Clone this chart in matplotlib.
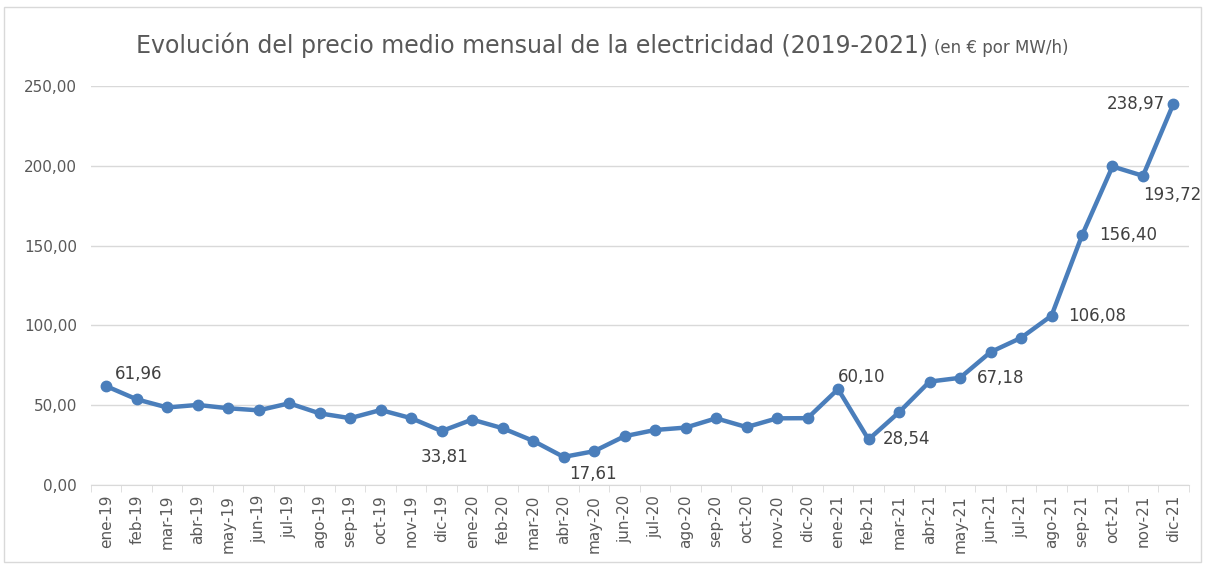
import numpy as np
import matplotlib.pyplot as plt
from matplotlib.patches import Rectangle

meses = ['ene', 'feb', 'mar', 'abr', 'may', 'jun', 'jul', 'ago', 'sep', 'oct', 'nov', 'dic']
etiquetas = [m + '-' + a for a in ['19', '20', '21'] for m in meses]

precios = [61.96, 53.7, 48.6, 50.2, 48.1, 46.8, 51.2, 44.9, 41.9, 47.0, 41.9, 33.81,
           41.0, 35.6, 27.7, 17.61, 21.2, 30.6, 34.5, 36.0, 41.8, 36.3, 41.8, 41.9,
           60.10, 28.54, 45.6, 64.8, 67.18, 83.3, 92.2, 106.08, 156.40, 199.6, 193.72, 238.97]

# etiquetas de datos: indice -> desplazamiento (pt) y alineacion
rotulos = {0: (6, 2, 'left', 'bottom'), 11: (2, -12, 'center', 'top'),
           15: (4, -6, 'left', 'top'), 24: (0, 2, 'left', 'bottom'),
           25: (10, 0, 'left', 'center'), 28: (12, 0, 'left', 'center'),
           31: (12, 0, 'left', 'center'), 32: (12, 0, 'left', 'center'),
           34: (0, -7, 'left', 'top'), 35: (-6, 0, 'right', 'center')}

gris = '#595959'
azul = '#4A7EBB'

fig = plt.figure(figsize=(12.05, 5.64), dpi=100)
fig.patches.append(Rectangle((0.003, 0.003), 0.994, 0.985, transform=fig.transFigure,
                             fill=False, edgecolor='#D9D9D9', linewidth=1))
ax = fig.add_axes([0.0755, 0.14, 0.911, 0.7075])

x = np.arange(len(precios))
ax.plot(x, precios, color=azul, linewidth=3.2, marker='o', markersize=7.5, zorder=3)

for i, (dx, dy, ha, va) in rotulos.items():
    ax.annotate(f'{precios[i]:.2f}'.replace('.', ','), (x[i], precios[i]),
                xytext=(dx, dy), textcoords='offset points', ha=ha, va=va,
                fontsize=12, color='#404040', annotation_clip=False)

ax.set_xlim(-0.5, len(precios) - 0.5)
ax.set_ylim(0, 250)
ax.set_yticks(np.arange(0, 251, 50))
ax.set_yticklabels([f'{v:.2f}'.replace('.', ',') for v in np.arange(0, 251, 50)])
ax.yaxis.grid(True, color='#D9D9D9', linewidth=1)
ax.set_axisbelow(True)

ax.set_xticks(x)
ax.set_xticklabels(etiquetas, rotation=90)
ax.set_xticks(np.arange(-0.5, len(precios)), minor=True)
ax.tick_params(axis='x', which='major', length=0, pad=7, labelsize=11, labelcolor=gris)
ax.tick_params(axis='x', which='minor', length=5, color='#D9D9D9')
ax.tick_params(axis='y', length=0, pad=10, labelsize=11, labelcolor=gris)

for s in ['top', 'right', 'left']:
    ax.spines[s].set_visible(False)
ax.spines['bottom'].set_color('#D9D9D9')

t1 = fig.text(0.113, 0.92, 'Evolución del precio medio mensual de la electricidad (2019-2021)',
              fontsize=17, color=gris, ha='left', va='center')
fig.canvas.draw()
bb = t1.get_window_extent()
fig.text((bb.x1 + 6) / fig.bbox.width, 0.915, '(en € por MW/h)', fontsize=12,
         color=gris, ha='left', va='center')

fig.savefig('out.png', dpi=100)
